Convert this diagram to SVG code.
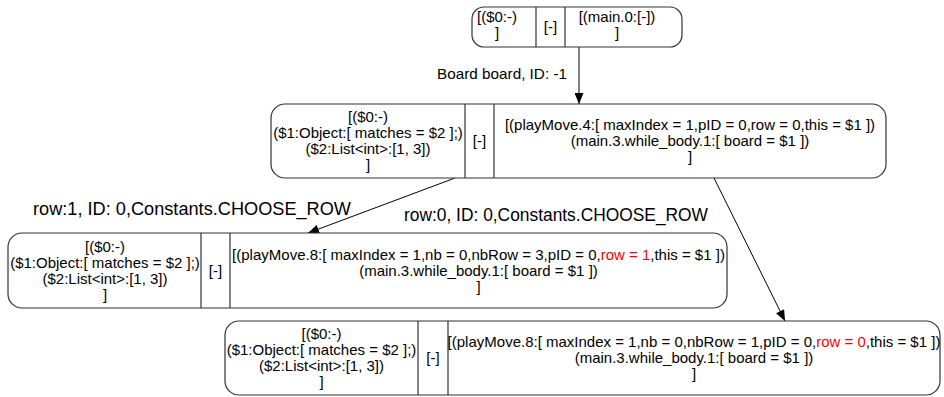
<svg xmlns="http://www.w3.org/2000/svg" width="944" height="397" viewBox="0 0 944 397">
<defs>
<marker id="arr" markerWidth="11" markerHeight="9" refX="11" refY="4.5" orient="auto" markerUnits="userSpaceOnUse">
<path d="M0,0 L11,4.5 L0,9 Z" fill="#000"/>
</marker>
<style>
.box{fill:#fff;stroke:#333;stroke-width:1.2}
.div{stroke:#333;stroke-width:1.2}
.t{font-family:"Liberation Sans",Arial,sans-serif;font-size:15px;fill:#000;text-anchor:middle}
.lbl{font-family:"Liberation Sans",Arial,sans-serif;font-size:15px;fill:#000}
.big{font-size:17.5px}
.edge{stroke:#000;stroke-width:1;fill:none}
.red{fill:#ff0000}
</style>
</defs>
<rect width="944" height="397" fill="#fff"/>
<g id="connectors">
<line class="edge" x1="579" y1="47" x2="579" y2="104" marker-end="url(#arr)"/>
<line class="edge" x1="455" y1="178" x2="308" y2="233" marker-end="url(#arr)"/>
<line class="edge" x1="714" y1="178" x2="785" y2="321" marker-end="url(#arr)"/>
<text class="lbl" x="567" y="79" text-anchor="end" textLength="130" lengthAdjust="spacingAndGlyphs">Board board, ID: -1</text>
<text class="lbl big" x="33" y="215" textLength="318" lengthAdjust="spacingAndGlyphs">row:1, ID: 0,Constants.CHOOSE_ROW</text>
<text class="lbl big" x="404" y="221" textLength="304" lengthAdjust="spacingAndGlyphs">row:0, ID: 0,Constants.CHOOSE_ROW</text>
</g>
<g id="node0">
<rect class="box" x="472" y="7" width="210" height="40" rx="12"/>
<line class="div" x1="536" y1="7" x2="536" y2="47"/>
<line class="div" x1="565" y1="7" x2="565" y2="47"/>
<text class="t" x="497" y="22">[($0:-)</text>
<text class="t" x="497" y="38">]</text>
<text class="t" x="550.5" y="32">[-]</text>
<text class="t" x="617" y="22">[(main.0:[-])</text>
<text class="t" x="617" y="38">]</text>
</g>
<g id="node1">
<rect class="box" x="271" y="104" width="615" height="74" rx="14"/>
<line class="div" x1="465" y1="104" x2="465" y2="178"/>
<line class="div" x1="494" y1="104" x2="494" y2="178"/>
<text class="t" x="368" y="122">[($0:-)</text>
<text class="t" x="368" y="138">($1:Object:[ matches = $2 ];)</text>
<text class="t" x="368" y="154">($2:List&lt;int&gt;:[1, 3])</text>
<text class="t" x="368" y="170">]</text>
<text class="t" x="479.5" y="146">[-]</text>
<text class="t" x="690" y="130">[(playMove.4:[ maxIndex = 1,pID = 0,row = 0,this = $1 ])</text>
<text class="t" x="690" y="146">(main.3.while_body.1:[ board = $1 ])</text>
<text class="t" x="690" y="162">]</text>
</g>
<g id="node2">
<rect class="box" x="8" y="233" width="719" height="75" rx="14"/>
<line class="div" x1="201" y1="233" x2="201" y2="308"/>
<line class="div" x1="230" y1="233" x2="230" y2="308"/>
<text class="t" x="105" y="251.5">[($0:-)</text>
<text class="t" x="105" y="267.5">($1:Object:[ matches = $2 ];)</text>
<text class="t" x="105" y="283.5">($2:List&lt;int&gt;:[1, 3])</text>
<text class="t" x="105" y="299.5">]</text>
<text class="t" x="215.5" y="275.5">[-]</text>
<text class="t" x="478.5" y="259.5">[(playMove.8:[ maxIndex = 1,nb = 0,nbRow = 3,pID = 0,<tspan class="red">row = 1</tspan>,this = $1 ])</text>
<text class="t" x="478.5" y="275.5">(main.3.while_body.1:[ board = $1 ])</text>
<text class="t" x="478.5" y="291.5">]</text>
</g>
<g id="node3">
<rect class="box" x="225" y="321" width="715" height="74" rx="14"/>
<line class="div" x1="418" y1="321" x2="418" y2="395"/>
<line class="div" x1="448" y1="321" x2="448" y2="395"/>
<text class="t" x="321.5" y="339">[($0:-)</text>
<text class="t" x="321.5" y="355">($1:Object:[ matches = $2 ];)</text>
<text class="t" x="321.5" y="371">($2:List&lt;int&gt;:[1, 3])</text>
<text class="t" x="321.5" y="387">]</text>
<text class="t" x="433" y="363">[-]</text>
<text class="t" x="694" y="347">[(playMove.8:[ maxIndex = 1,nb = 0,nbRow = 1,pID = 0,<tspan class="red">row = 0</tspan>,this = $1 ])</text>
<text class="t" x="694" y="363">(main.3.while_body.1:[ board = $1 ])</text>
<text class="t" x="694" y="379">]</text>
</g>
</svg>
